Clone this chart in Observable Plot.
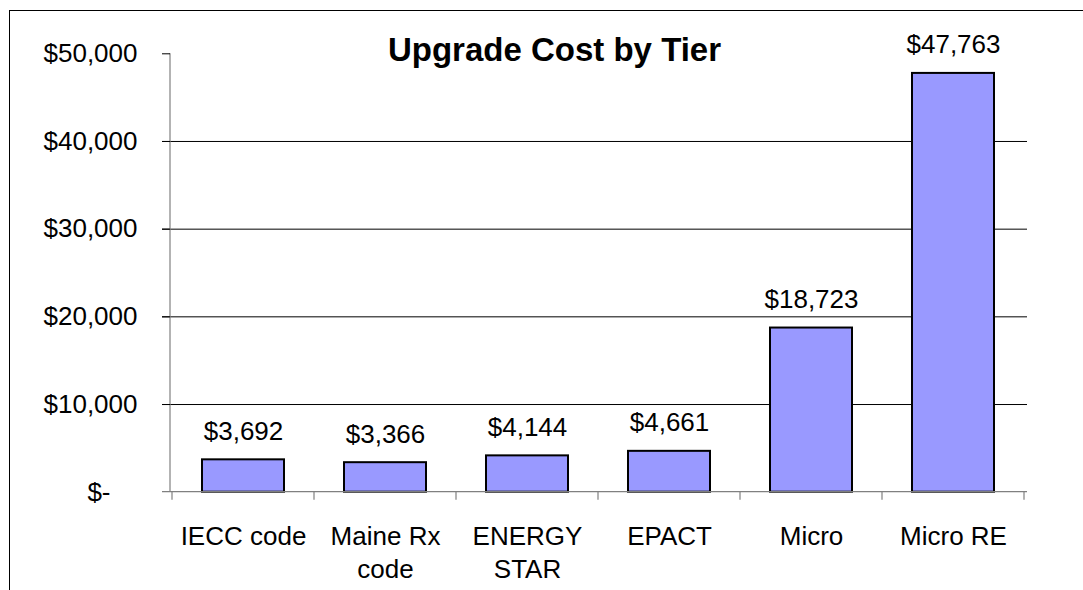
<!DOCTYPE html>
<html>
<head>
<meta charset="utf-8">
<script src="https://cdn.jsdelivr.net/npm/d3@7"></script>
<script src="https://cdn.jsdelivr.net/npm/@observablehq/plot@0.6"></script>
<style>
  html, body { margin: 0; padding: 0; background: #fff; overflow: hidden; }
  #wrap { position: relative; width: 1083px; height: 590px; }
  #border { position: absolute; left: 9px; top: 10px; width: 2000px; height: 2000px;
            border: 1.3px solid #000; pointer-events: none; box-sizing: border-box; }
  svg { display: block; }
</style>
</head>
<body>
<div id="wrap"><div id="chart"></div><div id="border"></div></div>
<script>
const title = "Upgrade Cost by Tier";
const categories = ["IECC code", "Maine Rx code", "ENERGY STAR", "EPACT", "Micro", "Micro RE"];
const values = [3692, 3366, 4144, 4661, 18723, 47763];
const xTickLabels = ["IECC code", "Maine Rx\ncode", "ENERGY\nSTAR", "EPACT", "Micro", "Micro RE"];
const yTicks = [0, 10000, 20000, 30000, 40000, 50000];

const fmt = d3.format(",");
const money = v => "$" + fmt(v);
const data = categories.map((c, i) => ({category: c, value: values[i]}));

const axisLines = (index, scales, vals, dims) => {
  const {x, y} = scales;
  const g = d3.create("svg:g").attr("stroke", "#808080").attr("stroke-width", 1.2).attr("fill", "none");
  const y0 = y(0);
  const xl = dims.marginLeft, xr = dims.width - dims.marginRight;
  g.append("line").attr("x1", xl - 8).attr("x2", xr).attr("y1", y0).attr("y2", y0);
  g.append("line").attr("x1", xl).attr("x2", xl).attr("y1", y(yTicks[yTicks.length - 1])).attr("y2", y0);
  const step = x.step(), bw = x.bandwidth();
  const half = (step - bw) / 2;
  const bounds = categories.map(c => x(c) - half);
  bounds.push(x(categories[categories.length - 1]) + bw + half);
  for (const b of bounds) {
    g.append("line").attr("x1", b).attr("x2", b).attr("y1", y0).attr("y2", y0 + 8);
  }
  return g.node();
};

const chart = Plot.plot({
  width: 1083,
  height: 590,
  marginLeft: 170,
  marginRight: 56,
  marginTop: 53.3,
  marginBottom: 98.3,
  x: {domain: categories, paddingInner: 0.42, paddingOuter: 0.21, label: null},
  y: {domain: [0, 50000], label: null},
  style: {fontFamily: "'Liberation Sans', Arial, sans-serif", fontSize: "26px", background: "transparent", color: "#000"},
  marks: [
    Plot.ruleY(yTicks.filter(t => t > 0 && t < 50000), {stroke: "#000", strokeWidth: 1, insetLeft: -8}),
    Plot.barY(data, {x: "category", y: "value", fill: "#9999FF", stroke: "#000", strokeWidth: 2}),
    axisLines,
    Plot.axisY({ticks: yTicks.filter(t => t > 0), tickSize: 8, tickPadding: 25, tickFormat: money, stroke: "#000"}),
    Plot.axisY({ticks: [0], tickSize: 0, tickPadding: 60, tickFormat: () => "$-"}),
    Plot.axisX({tickSize: 0, tickPadding: 29, lineHeight: 1.28,
      tickFormat: d => xTickLabels[categories.indexOf(d)]}),
    Plot.text(data, {x: "category", y: "value", text: d => money(d.value), dy: -20, lineAnchor: "bottom", fill: "#000"}),
    Plot.text([title], {text: d => d, frameAnchor: "top", dx: -44.5, dy: 6.7, lineAnchor: "bottom",
      fontSize: 33, fontWeight: "bold", fill: "#000"})
  ]
});
document.getElementById("chart").appendChild(chart);
</script>
</body>
</html>
